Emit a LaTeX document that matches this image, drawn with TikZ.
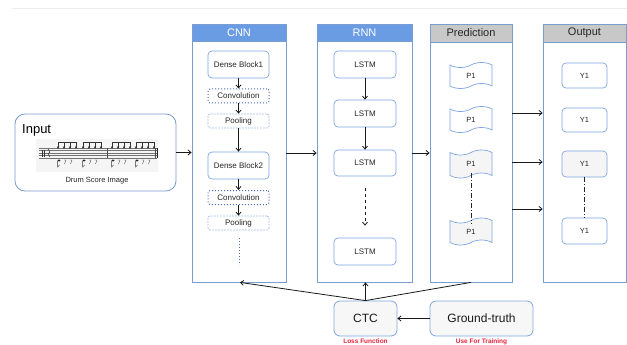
\documentclass[tikz,border=0pt]{standalone}
\usepackage{fontspec}
\setmainfont{Liberation Sans}
\usetikzlibrary{arrows.meta,shapes.symbols,calc}
\definecolor{bord}{HTML}{7B9CD0}
\definecolor{hblue}{HTML}{6A9CE3}
\definecolor{hgray}{HTML}{C8C8C8}
\definecolor{bx}{HTML}{7EA6E0}
\definecolor{dotb}{HTML}{4A6FB5}
\definecolor{poolb}{HTML}{A8C0E8}
\definecolor{lred}{HTML}{E8253C}
\definecolor{lgray}{HTML}{F5F5F5}
\tikzset{
  panel/.style={draw=bord, fill=white, line width=0.8pt, inner sep=0pt},
  hdrblue/.style={draw=bord, fill=hblue, text=white, line width=0.8pt, inner sep=0pt, font=\fontsize{11}{12}\selectfont},
  hdrgray/.style={draw=bord, fill=hgray, text=black!85, line width=0.8pt, inner sep=0pt, font=\fontsize{11}{12}\selectfont},
  blockbox/.style={draw=bx, fill=white, rounded corners=4pt, line width=0.7pt, inner sep=0pt, font=\fontsize{8}{9}\selectfont, text=black!85},
  convbox/.style={draw=dotb, dotted, fill=white, rounded corners=2pt, line width=1pt, inner sep=0pt, font=\fontsize{8}{9}\selectfont, text=black!85},
  poolbox/.style={draw=poolb, dash pattern=on 2pt off 1pt, fill=white, rounded corners=2pt, line width=0.7pt, inner sep=0pt, font=\fontsize{8}{9}\selectfont, text=black!85},
  docbox/.style={shape=tape, draw=bx, line width=0.7pt, inner sep=0pt, tape bend top=in and out, tape bend bottom=in and out, tape bend height=5pt, font=\fontsize{7.5}{8}\selectfont, text=black!85},
  bigbox/.style={draw=bx, fill=black!3, rounded corners=6pt, line width=0.8pt, inner sep=0pt, text=black!90},
  arr/.style={draw=black!90, line width=0.8pt, -{Straight Barb[length=3pt,width=5pt]}},
  plain/.style={draw=black!90, line width=0.8pt},
  note/.style={text=lred, font=\bfseries\fontsize{6.5}{7}\selectfont}
}
\begin{document}
\begin{tikzpicture}[x=1pt,y=-1pt]
\useasboundingbox (0,0) rectangle (627,345);
\draw[black!7, line width=0.8pt] (12,8) -- (627,8);

% Input
\node[draw=bord, fill=white, rounded corners=10pt, line width=0.8pt, minimum width=161pt, minimum height=77pt, inner sep=0pt] (inp) at (95.5,152.5) {};
\node[anchor=west, inner sep=0pt, font=\fontsize{13}{14}\selectfont] (inptitle) at (22,130) {Input};
\node[inner sep=0pt, font=\fontsize{7.5}{8}\selectfont, text=black!85] (drumlbl) at (97,181) {Drum Score Image};
% drum score image
\fill[black!4] (36,139) rectangle (158,172);
\foreach \y in {148,150.5,153,155.5,158} \draw[black!55, line width=0.3pt] (39,\y) -- (157,\y);
\draw[black!80, line width=0.9pt] (42.5,150) -- (42.5,156.5) (44.8,150) -- (44.8,156.5);
\draw[black!70, line width=0.4pt] (107,148) -- (107,158) (155.5,148) -- (155.5,158);
\draw[black!85, line width=0.9pt] (157,148) -- (157,158);
\draw[black!80, line width=0.5pt] (48,149) -- (50,152) -- (48,154) -- (50,157);
\foreach \s in {58,83,112,136} {
  \draw[black!80, line width=0.7pt] (\s,142) -- (\s+18,142);
  \foreach \i in {0,6,12,18} {
    \draw[black!80, line width=0.4pt] (\s+\i,142) -- (\s+\i,147.5);
    \draw[black!80, line width=0.4pt] (\s+\i-1,146.5) -- (\s+\i+1,148.5) (\s+\i-1,148.5) -- (\s+\i+1,146.5);
  }
  \fill[black!85] (\s+1,160.5) ellipse (1.5pt and 1.1pt);
  \draw[black!80, line width=0.4pt] (\s-0.4,160.5) -- (\s-0.4,167) -- (\s+1.5,165);
  \draw[black!70, line width=0.4pt] (\s+6,160) -- (\s+8,160) -- (\s+6.5,164);
  \draw[black!70, line width=0.4pt] (\s+12,160) -- (\s+14,160) -- (\s+12.5,164);
}

% CNN panel
\node[panel, minimum width=94pt, minimum height=258pt] (cnn) at (239,153) {};
\node[hdrblue, minimum width=94pt, minimum height=17pt] (cnnh) at (239,32.5) {CNN};
\node[blockbox, minimum width=61pt, minimum height=27pt] (db1) at (238.5,64.5) {Dense Block1};
\node[convbox, minimum width=61pt, minimum height=14pt] (cv1) at (238.5,96) {Convolution};
\node[poolbox, minimum width=61pt, minimum height=14pt] (pl1) at (238.5,121) {Pooling};
\node[blockbox, minimum width=61pt, minimum height=27pt] (db2) at (238.5,165.5) {Dense Block2};
\node[convbox, minimum width=61pt, minimum height=14pt] (cv2) at (238.5,197.5) {Convolution};
\node[poolbox, minimum width=61pt, minimum height=14pt] (pl2) at (238.5,223) {Pooling};
\coordinate (cdot1) at (239,238);
\coordinate (cdot2) at (239,265);
\draw[arr] (db1) -- (cv1);
\draw[arr] (cv1) -- (pl1);
\draw[arr] (pl1) -- (db2);
\draw[arr] (db2) -- (cv2);
\draw[arr] (cv2) -- (pl2);
\draw[dotb, dotted, line width=1pt] (cdot1) -- (cdot2);

% RNN panel
\node[panel, minimum width=95pt, minimum height=258pt] (rnn) at (364.5,153) {};
\node[hdrblue, minimum width=95pt, minimum height=17pt] (rnnh) at (364.5,32.5) {RNN};
\node[blockbox, minimum width=62pt, minimum height=27pt] (ls1) at (365,64.5) {LSTM};
\node[blockbox, minimum width=62pt, minimum height=27pt] (ls2) at (365,113.5) {LSTM};
\node[blockbox, minimum width=62pt, minimum height=26pt] (ls3) at (365,163) {LSTM};
\node[blockbox, minimum width=62pt, minimum height=27pt] (ls4) at (365,251.5) {LSTM};
\draw[arr] (ls1) -- (ls2);
\draw[arr] (ls2) -- (ls3);
\draw[arr, dashed] ([yshift=-12pt]ls3.south) -- ([yshift=12pt]ls4.north);

% Prediction panel
\node[panel, minimum width=82pt, minimum height=258pt] (pred) at (471,153) {};
\node[hdrgray, minimum width=82pt, minimum height=18pt] (predh) at (471,33) {Prediction};
\node[docbox, fill=white, minimum width=42pt, minimum height=26pt] (p1) at (471,75.5) {P1};
\node[docbox, fill=white, minimum width=42pt, minimum height=26pt] (p2) at (471,119.5) {P1};
\node[docbox, fill=lgray, minimum width=42pt, minimum height=28pt] (p3) at (471,164) {P1};
\node[docbox, fill=lgray, minimum width=42pt, minimum height=27pt] (p4) at (471,231.5) {P1};
\draw[black!85, line width=0.8pt, dash pattern=on 5pt off 2pt on 1pt off 2pt] ([yshift=3pt]p3.south) -- ([yshift=-3pt]p4.north);

% Output panel
\node[panel, minimum width=83pt, minimum height=258pt] (out) at (584.5,153) {};
\node[hdrgray, minimum width=83pt, minimum height=18pt] (outh) at (584.5,33) {Output};
\node[blockbox, minimum width=45pt, minimum height=25pt] (y1) at (584.5,75.5) {\fontsize{7.5}{8}\selectfont Y1};
\node[blockbox, minimum width=45pt, minimum height=24pt] (y2) at (584.5,120) {\fontsize{7.5}{8}\selectfont Y1};
\node[blockbox, fill=lgray, minimum width=45pt, minimum height=26pt] (y3) at (584.5,164) {\fontsize{7.5}{8}\selectfont Y1};
\node[blockbox, minimum width=45pt, minimum height=26pt] (y4) at (584.5,231) {\fontsize{7.5}{8}\selectfont Y1};
\draw[black!85, line width=0.8pt, dash pattern=on 5pt off 2pt on 1pt off 2pt] (y3.south) -- (y4.north);

% bottom
\node[bigbox, minimum width=63pt, minimum height=35pt, font=\fontsize{12}{14}\selectfont] (ctc) at (365.5,318.5) {CTC};
\node[bigbox, minimum width=103pt, minimum height=35pt, font=\fontsize{12}{14}\selectfont] (gt) at (481.5,318.5) {Ground-truth};
\node[note] (lossl) at (365.5,341.5) {Loss Function};
\node[note] (trainl) at (481.5,341.5) {Use For Training};

% main flow arrows
\draw[arr] (inp.east) -- (inp.east -| cnn.west);
\draw[arr] (cnn.east) -- (rnn.west);
\draw[arr] (rnn.east) -- (pred.west);
\coordinate (r1) at (0,113);
\coordinate (r2) at (0,162);
\coordinate (r3) at (0,209);
\draw[arr] (pred.east |- r1) -- (out.west |- r1);
\draw[arr] (pred.east |- r2) -- (out.west |- r2);
\draw[arr] (pred.east |- r3) -- (out.west |- r3);

\draw[arr] (gt.west) -- (ctc.east);
\draw[arr] (ctc.north) -- ([xshift=1pt]cnn.south);
\draw[arr] (ctc.north) -- (ctc.north |- rnn.south);
\draw[plain] (pred.south) -- (ctc.north);
\end{tikzpicture}
\end{document}
